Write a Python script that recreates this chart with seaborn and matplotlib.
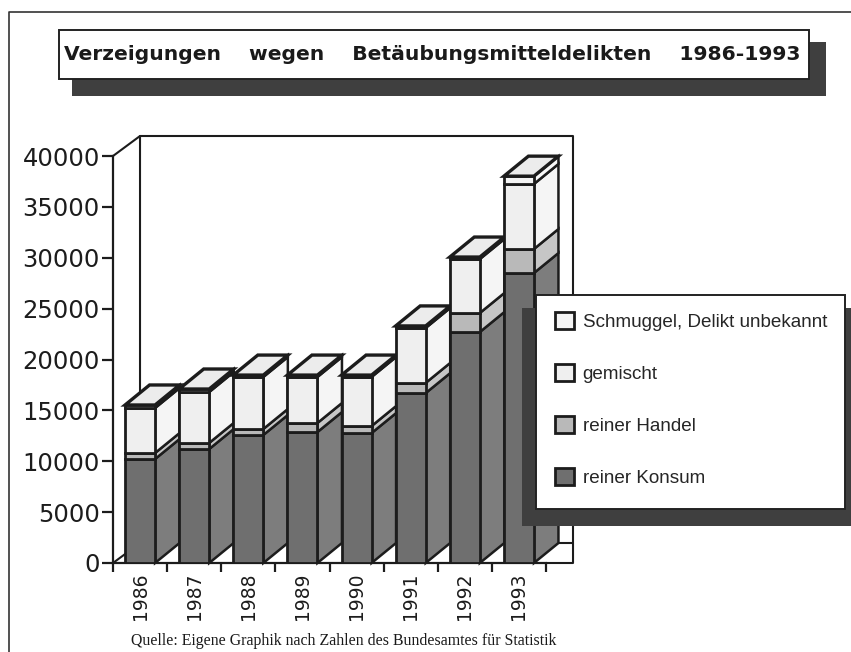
import numpy as np
import pandas as pd
import matplotlib
matplotlib.use('Agg')
import matplotlib.pyplot as plt
from matplotlib.patches import Polygon, Rectangle
import seaborn as sns

# Data
years = ['1986', '1987', '1988', '1989', '1990', '1991', '1992', '1993']
konsum = [10220, 11200, 12580, 12870, 12770, 16700, 22700, 28500]
handel = [590, 600, 590, 890, 690, 1000, 1870, 2360]
gemischt = [4420, 5000, 5110, 4520, 4820, 5400, 5300, 6390]
schmuggel = [300, 300, 190, 190, 190, 200, 200, 770]

names = ['reiner Konsum', 'reiner Handel', 'gemischt', 'Schmuggel, Delikt unbekannt']
front_cols = ['#6f6f6f', '#b9b9b9', '#efefef', '#f4f4f4']
side_cols = ['#7d7d7d', '#c6c6c6', '#f5f5f5', '#f8f8f8']
edge = '#1c1c1c'

W, H = 851, 652
sns.set_style('white')
plt.rcParams['font.family'] = ['DejaVu Sans']
fig = plt.figure(figsize=(W / 100, H / 100), dpi=100)


def fx(x):
    return x / W


def fy(y):
    return 1 - y / H


def box(x0, y0, x1, y1, face, ec='none', lw=0, z=5):
    fig.add_artist(Rectangle((fx(x0), fy(y1)), (x1 - x0) / W, (y1 - y0) / H, transform=fig.transFigure,
                             facecolor=face, edgecolor=ec, linewidth=lw, zorder=z))


# axes: x 113..546, y 156..563 in pixels
ax = fig.add_axes([fx(113), fy(563), (546 - 113) / W, (563 - 156) / H])
ax.patch.set_alpha(0)

df = pd.DataFrame({'Jahr': years, names[0]: konsum, names[1]: handel, names[2]: gemischt, names[3]: schmuggel})

# stacked front faces
bottom = np.zeros(len(years))
bottoms = []
for name, col in zip(names, front_cols):
    sns.barplot(data=df, x='Jahr', y=name, bottom=bottom, color=col, saturation=1, width=30 / 54.1,
                edgecolor=edge, linewidth=2, label=name, ax=ax)
    bottoms.append(bottom.copy())
    bottom = bottom + df[name].values

handles, labels = ax.get_legend_handles_labels()
if ax.get_legend() is not None:
    ax.get_legend().remove()

ax.set_xlim(-0.5, 7.5)
ax.set_ylim(0, 40000)

# 3D depth of the bars and the back wall
dx = 24.5 / 54.1
dy = 20 / 407 * 40000
half = 15 / 54.1
wall_dx = 27 / 54.1

for c, cont in enumerate(ax.containers):
    for i, rect in enumerate(cont):
        rect.set_zorder(4 + i + 0.5)
        b = bottoms[c][i]
        t = b + df[names[c]].values[i]
        r = i + half
        ax.add_patch(Polygon([(r, b), (r + dx, b + dy), (r + dx, t + dy), (r, t)], closed=True,
                             facecolor=side_cols[c], edgecolor=edge, linewidth=1.8, clip_on=False,
                             zorder=4 + i))
# top cap
for i in range(len(years)):
    t = bottom[i]
    l, r = i - half, i + half
    ax.add_patch(Polygon([(l, t), (l + dx, t + dy), (r + dx, t + dy), (r, t)], closed=True,
                         facecolor='#ececec', edgecolor=edge, linewidth=2.4, clip_on=False, zorder=4 + i + 0.6))

wall = dict(color=edge, lw=1.5, clip_on=False, zorder=1)
ax.plot([-0.5, -0.5 + wall_dx, -0.5 + wall_dx, 7.5 + wall_dx, 7.5 + wall_dx, 7.5],
        [40000, 40000 + dy, dy, dy, 0, 0], **wall)
ax.plot([-0.5 + wall_dx, 7.5 + wall_dx, 7.5 + wall_dx], [40000 + dy, 40000 + dy, dy], **wall)
ax.plot([-0.5, -0.5 + wall_dx], [0, dy], **wall)

# axes styling
sns.despine(ax=ax)
for s in ['left', 'bottom']:
    ax.spines[s].set_linewidth(1.6)
    ax.spines[s].set_color(edge)
ax.set_xlabel('')
ax.set_ylabel('')
ax.set_yticks(np.arange(0, 40001, 5000))
ax.set_xticks(range(len(years)))
ax.set_xticklabels(years, rotation=90)
ax.set_xticks(np.arange(-0.5, 8, 1), minor=True)
ax.tick_params(axis='x', which='major', length=0, pad=7, labelsize=13.5, colors='#1c1c1c')
ax.tick_params(axis='x', which='minor', length=6.5, width=1.6, color=edge, bottom=True)
ax.tick_params(axis='y', length=8, width=1.6, color=edge, pad=1.5, labelsize=17.5, labelcolor='#1c1c1c', left=True)

# page frame
fig.add_artist(plt.Line2D([fx(9), fx(9), 1], [0, fy(12), fy(12)], color='#333333', lw=1.2, transform=fig.transFigure))

# title box
box(72, 42, 826, 96, '#3f3f3f', z=5)
box(59, 30, 809, 79, 'white', ec='#222222', lw=1.4, z=6)
fig.text(fx(64), fy(55), 'Verzeigungen    wegen    Betäubungsmitteldelikten    1986-1993',
         family='DejaVu Sans', weight='bold', fontsize=14.6, va='center', color='#1a1a1a', zorder=7)

# legend box
box(522, 308, 860, 526, '#3f3f3f', z=5)
box(536, 295, 845, 509, 'white', ec='#222222', lw=1.4, z=6)
leg = fig.legend(handles[::-1], labels[::-1], loc='upper left', bbox_to_anchor=(fx(544), fy(301)), frameon=False,
                 prop={'family': 'Liberation Sans', 'size': 13.6}, handlelength=1.0, handleheight=1.0,
                 handletextpad=0.45, labelspacing=1.75, borderpad=0.6, borderaxespad=0)
leg.set_zorder(7)

# source note
fig.text(fx(131), fy(641), 'Quelle: Eigene Graphik nach Zahlen des Bundesamtes für Statistik',
         family='Liberation Serif', fontsize=11.4, va='center', color='#1a1a1a', zorder=7)

fig.savefig('out.png', dpi=100)
